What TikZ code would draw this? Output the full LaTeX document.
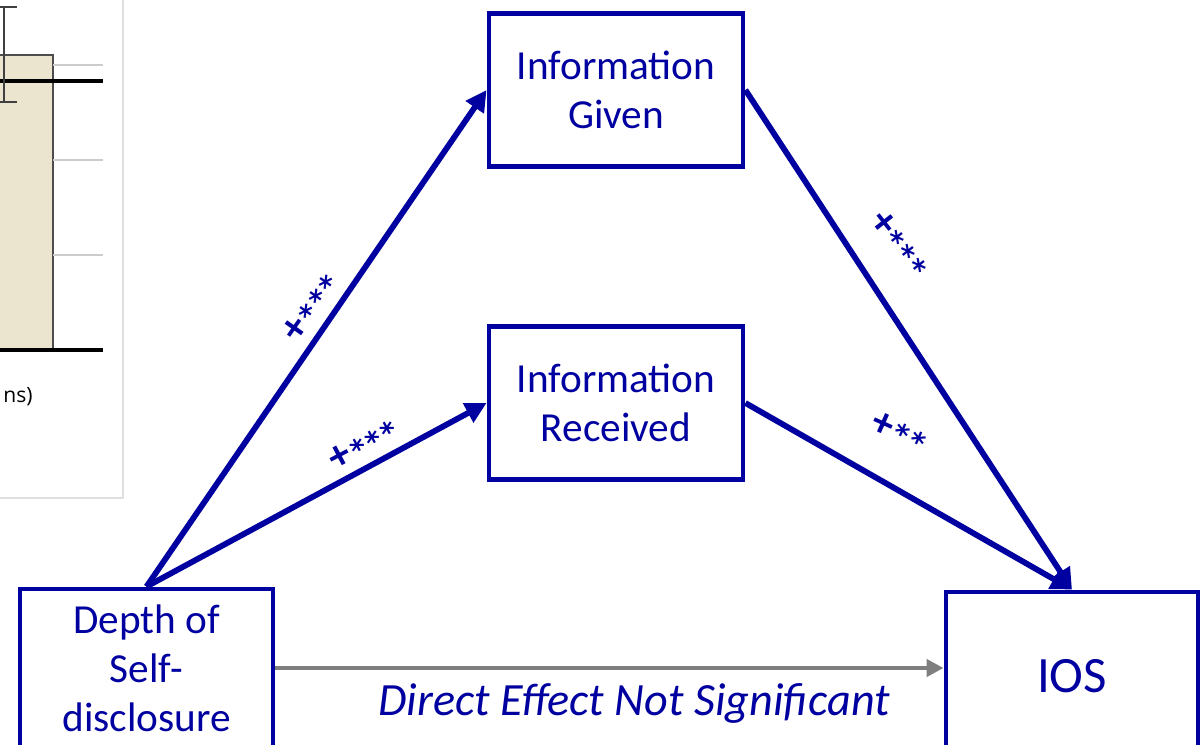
\documentclass[tikz,border=0pt]{standalone}
\usepackage{fontspec}
\setmainfont{Carlito}
\newfontfamily\chartfont{Open Sans}
\newfontfamily\starfont{DejaVu Sans}
\usetikzlibrary{arrows.meta}
\definecolor{navy}{RGB}{0,0,160}
\definecolor{arrgray}{RGB}{127,127,127}
\definecolor{barfill}{RGB}{235,228,207}
\newcommand{\onestar}{\kern1.6pt*}
\newcommand{\stars}[1]{{\starfont\bfseries\fontsize{16}{16}\selectfont #1}}
\begin{document}
\begin{tikzpicture}[x=0.02cm,y=-0.02cm,
  box/.style={draw=navy,line width=2.8pt,text=navy,align=center,inner sep=0pt,
    font=\fontsize{23.5}{28}\selectfont},
  conn/.style={draw=navy,line width=3.3pt,-{Triangle[length=0.42cm,width=0.42cm]}},
  direct/.style={draw=arrgray,line width=2.8pt,-{Triangle[length=0.34cm,width=0.34cm]}},
  sig/.style={text=navy,inner sep=0pt,font=\bfseries\fontsize{24}{24}\selectfont},
  grid/.style={draw=gray!40,line width=0.8pt},
  axis/.style={draw=black,line width=1.8pt}]
\useasboundingbox (0,0) rectangle (1203,744);
\clip (0,0) rectangle (1203,744);
% partial chart
\draw[draw=gray!25,line width=0.6pt,fill=white] (-10,-10) rectangle (123,498);
\draw[fill=barfill,draw=gray!60!black,line width=0.8pt] (-10,55) rectangle (53,350);
\foreach \yy in {65,160,255} \draw[grid] (53,\yy) -- (103,\yy);
\draw[axis] (-10,81) -- (103,81);
\draw[axis] (-10,350) -- (103,350);
\draw[draw=gray!50!black,line width=0.8pt] (4,7) -- (4,102);
\draw[draw=gray!50!black,line width=0.8pt] (-10,7) -- (17,7);
\draw[draw=gray!50!black,line width=0.8pt] (-10,102) -- (17,102);
\node[anchor=east,inner sep=0pt,font=\chartfont\fontsize{12}{14}\selectfont] (axlbl) at (33,397) {ns)};
% nodes
\node[box,minimum width=5.08cm,minimum height=3.06cm] (ig) at (616,90) {Information\\Given};
\node[box,minimum width=5.08cm,minimum height=3.06cm] (ir) at (616,403) {Information\\Received};
\node[box,minimum width=5.06cm,minimum height=3.16cm] (dep) at (146.5,668) {Depth of\\Self-\\disclosure};
\node[box,minimum width=5.04cm,minimum height=3.36cm,font=\fontsize{29}{32}\selectfont] (ios) at (1072,676) {IOS};
% connectors
\draw[conn] (dep.north) -- (ig.west);
\draw[conn] (dep.north) -- (ir.west);
\draw[conn] (ig.east) -- (ios.north);
\draw[conn] (ir.east) -- (ios.north);
\draw[direct] (dep.east) -- (ios.west |- dep.east);
% labels
\node[sig,rotate=55] (l1) at (311,308) {+\stars{\onestar\onestar\onestar}};
\node[sig,rotate=28] (l2) at (363,445) {+\stars{\onestar\onestar\onestar}};
\node[sig,rotate=-52] (l3) at (899,244) {+\stars{\onestar\onestar\onestar}};
\node[sig,rotate=-24] (l4) at (899,432) {+\stars{\onestar\onestar}};
\node[text=navy,inner sep=0pt,font=\itshape\fontsize{26.3}{28}\selectfont] (det) at (634,703) {Direct Effect Not Significant};
\end{tikzpicture}
\end{document}
